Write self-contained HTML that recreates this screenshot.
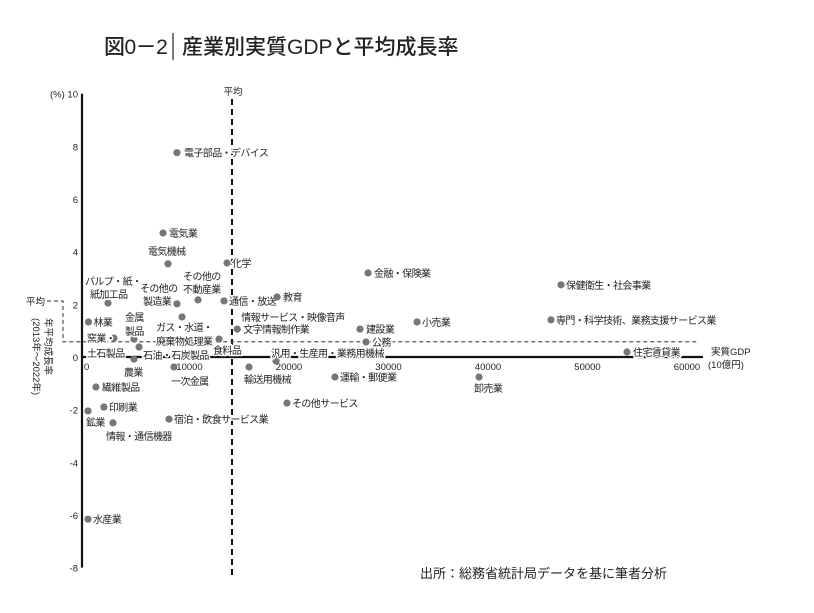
<!DOCTYPE html>
<html><head><meta charset="utf-8"><style>
html,body{margin:0;padding:0;background:#fff;}
svg{display:block;font-family:"Liberation Sans","Noto Sans CJK JP",sans-serif;}
.lbl{font-size:10px;fill:#222;letter-spacing:-0.6px;paint-order:stroke;stroke:#fff;stroke-width:3px;stroke-linejoin:round;}
.tick{font-size:9.5px;fill:#222;}
</style></head><body>
<svg id="chart" width="814" height="613" viewBox="0 0 814 613">
<text x="104" y="54" font-size="21" font-weight="500" fill="#222" letter-spacing="-0.5">図0－2</text>
<line x1="173" y1="33" x2="173" y2="60" stroke="#222" stroke-width="1.2"/>
<text x="182" y="54" font-size="21" font-weight="500" fill="#222">産業別実質GDPと平均成長率</text>
<g id="plot"></g>
<text x="420" y="578" font-size="13" fill="#222">出所：総務省統計局データを基に筆者分析</text>
</svg>
<script>
const industries=["電子部品・デバイス","電気業","電気機械","化学","パルプ・紙・紙加工品","その他の製造業","その他の不動産業","通信・放送","林業","ガス・水道・廃棄物処理業","窯業・土石製品","金属製品","石油・石炭製品","農業","一次金属","食料品","繊維製品","印刷業","鉱業","情報・通信機器","宿泊・飲食サービス業","水産業","教育","情報サービス・映像音声 文字情報制作業","金融・保険業","建設業","小売業","公務","汎用・生産用・業務用機械","輸送用機械","運輸・郵便業","卸売業","その他サービス","保健衛生・社会事業","専門・科学技術、業務支援サービス業","住宅賃貸業"];
const gdpValues=[8940,7540,8040,13970,2010,8940,11060,13670,50,9450,2610,4620,5130,4620,8640,13170,800,1600,0,2510,8140,0,19000,15000,28140,27340,33070,27940,18900,16180,24820,39300,20000,47540,46530,54170];
const growthValues=[7.76,4.71,3.54,3.57,2.05,2.02,2.17,2.13,1.33,1.52,0.72,0.68,0.38,-0.08,-0.38,0.68,-1.14,-1.9,-2.05,-2.5,-2.36,-6.16,2.28,1.06,3.19,1.06,1.33,0.57,-0.15,-0.38,-0.76,-0.76,-1.75,2.74,1.41,0.19];
const avgGdp=14470;
const avgGrowth=0.58;
const xTickValues=[0,10000,20000,30000,40000,50000,60000];
const xTickLabels=["0","10000","20000","30000","40000","50000","60000"];
const yTickValues=[10,8,6,4,2,0,-2,-4,-6,-8];
const yTickLabels=["10","8","6","4","2","0","-2","-4","-6","-8"];
// label layout (text lines + offsets relative to dot), not data
const labelLayout=[
 [["電子部品・デバイス",7,4]],[["電気業",6,4]],[["電気機械",-20,-9]],[["化学",5,4]],
 [["パルプ・紙・",-23,-18],["紙加工品",-18,-5]],[["その他の",-37,-12],["製造業",-34,1]],
 [["その他の",-15,-20],["不動産業",-15,-7]],[["通信・放送",5,4]],[["林業",5,4]],
 [["ガス・水道・",-26,14],["廃棄物処理業",-26,28]],[["窯業・",-27,4],["土石製品",-27,19]],
 [["金属",-9,-18],["製品",-9,-4]],[["石油・石炭製品",4,12]],[["農業",-10,17]],
 [["一次金属",-3,18]],[["食料品",-6,15]],[["繊維製品",6,4]],[["印刷業",5,4]],[["鉱業",-2,15]],
 [["情報・通信機器",-7,17]],[["宿泊・飲食サービス業",5,4]],[["水産業",5,4]],[["教育",6,4]],
 [["情報サービス・映像音声",4,-8],["文字情報制作業",6,4]],[["金融・保険業",6,4]],[["建設業",6,4]],
 [["小売業",5,4]],[["公務",6,4]],[["汎用・生産用・業務用機械",-5,-4]],[["輸送用機械",-5,16]],
 [["運輸・郵便業",5,4]],[["卸売業",-5,15]],[["その他サービス",5,4]],[["保健衛生・社会事業",5,4]],
 [["専門・科学技術、業務支援サービス業",5,4]],[["住宅賃貸業",6,4]]
];
const NS="http://www.w3.org/2000/svg";
const plot=document.getElementById('plot');
const X=v=>88+v*0.00995;
const Y=v=>357-v*26.33;
function el(t,a,p){const e=document.createElementNS(NS,t);for(const k in a)e.setAttribute(k,a[k]);(p||plot).appendChild(e);return e;}
let ya=el('line',{x1:82,y1:Y(10),x2:82,y2:Y(-8),stroke:'#111','stroke-width':2.2});


let xa=el('line',{x1:82,y1:Y(0),x2:703,y2:Y(0),stroke:'#111','stroke-width':2.2});


let av=el('line',{x1:X(avgGdp),y1:99,x2:X(avgGdp),y2:576,stroke:'#111','stroke-width':2,'stroke-dasharray':'6 4'});


let ah=el('path',{d:`M47 301 H63 V${Y(avgGrowth)} H698`,fill:'none',stroke:'#555','stroke-width':1.2,'stroke-dasharray':'4 3'});


let at=el('text',{x:X(avgGdp)+1,y:95,'text-anchor':'middle',class:'tick'});at.textContent='平均';


let al=el('text',{x:26,y:305,class:'tick'});al.textContent='平均';


yTickValues.forEach((v,i)=>{
 const t=el('text',{x:78,y:Y(v)+4,'text-anchor':'end',class:'tick'});
 t.textContent=(v===10?'(%) ':'')+yTickLabels[i];
 
 
});
xTickValues.forEach((v,i)=>{
 const t=el('text',{x:v===0?84:X(v)+2,y:Y(0)+13,'text-anchor':v===0?'start':'middle',class:'tick'});
 t.textContent=xTickLabels[i];
 
 
});
let xt=el('text',{x:711,y:355,class:'tick'});xt.textContent='実質GDP';


let xu=el('text',{x:708,y:368,class:'tick'});xu.textContent='(10億円)';


let yt=el('text',{x:0,y:0,class:'tick',transform:'translate(45,318) rotate(90)'});yt.textContent='年平均成長率';


let yu=el('text',{x:0,y:0,class:'tick',transform:'translate(33,318) rotate(90)'});yu.textContent='(2013年～2022年)';


industries.forEach((name,i)=>{
 const cx=X(gdpValues[i]),cy=Y(growthValues[i]);
 const c=el('circle',{cx:cx,cy:cy,r:3.6,fill:'#777'});
 
 
 labelLayout[i].forEach(l=>{
  const t=el('text',{x:cx+l[1],y:cy+l[2],class:'lbl'});
  t.textContent=l[0];
  
  
 });
});
</script>
</body></html>
